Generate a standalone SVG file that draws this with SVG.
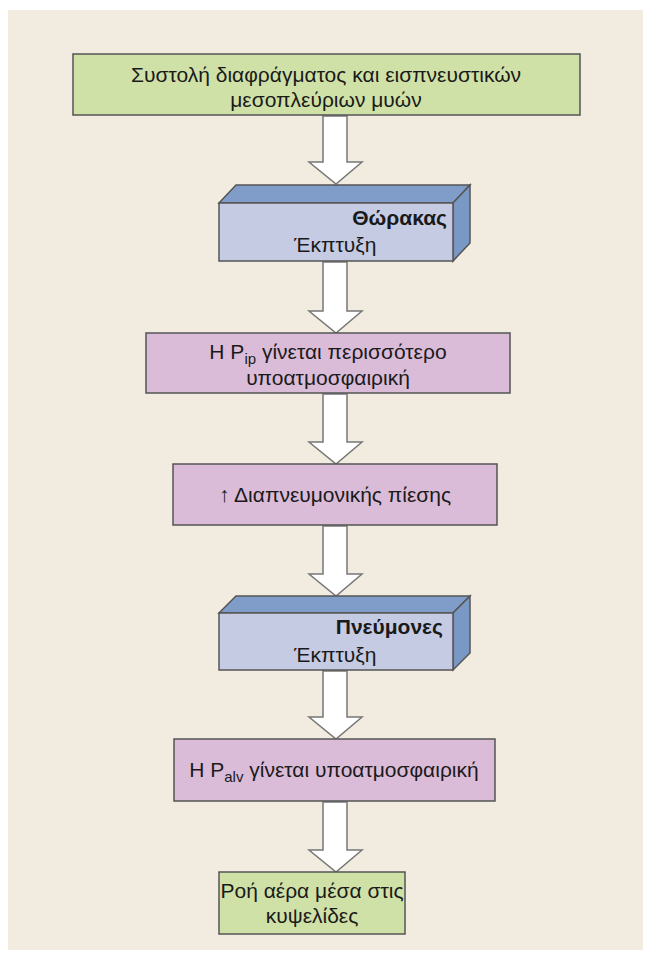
<svg xmlns="http://www.w3.org/2000/svg" width="650" height="960" viewBox="0 0 650 960">
<defs>
<style>
.t{font-family:"Liberation Sans","DejaVu Sans",sans-serif;font-size:21px;fill:#1a1a1a}
.b{font-weight:bold}
.box{stroke:#555;stroke-width:1.5}
.g{fill:#d0e1a8}
.p{fill:#dbbcd8}
.front{fill:#c4cbe3}
.top{fill:#7f9dc8}
.side{fill:#7a98c4}
.arr{fill:#ffffff;stroke:#777;stroke-width:1.5;stroke-linejoin:miter}
</style>
</defs>
<rect x="0" y="0" width="650" height="960" fill="#ffffff"/>
<rect x="8" y="10" width="635" height="940" fill="#f2ebe0"/>
<g id="connectors">
<path class="arr" d="M323,116 V162 H309 L336,184 L362,162 H347 V116 Z"/>
<path class="arr" d="M323,262 V311 H309 L336,333 L362,311 H347 V262 Z"/>
<path class="arr" d="M323,394 V442 H309 L336,464 L362,442 H347 V394 Z"/>
<path class="arr" d="M323,526 V574 H309 L336,596 L362,574 H347 V526 Z"/>
<path class="arr" d="M323,671 V717 H309 L336,739 L362,717 H347 V671 Z"/>
<path class="arr" d="M323,802 V850 H309 L336,872 L362,850 H347 V802 Z"/>
</g>
<g id="n1">
<rect class="box g" x="73" y="54" width="507" height="61"/>
<text class="t" x="326" y="82" text-anchor="middle">Συστολή διαφράγματος και εισπνευστικών</text>
<text class="t" x="326" y="107" text-anchor="middle">μεσοπλεύριων μυών</text>
</g>
<g id="n2">
<polygon class="box top" points="219,203 236,185 470,185 453,203"/>
<polygon class="box side" points="453,203 470,185 470,243 453,261"/>
<rect class="box front" x="219" y="203" width="234" height="58"/>
<text class="t b" x="447" y="225" text-anchor="end">Θώρακας</text>
<text class="t" x="294" y="252">Έκπτυξη</text>
</g>
<g id="n3">
<rect class="box p" x="146" y="333" width="364" height="60"/>
<text class="t" x="328" y="359" text-anchor="middle">H P<tspan font-size="15" dy="5">ip</tspan><tspan dy="-5"> γίνεται περισσότερο</tspan></text>
<text class="t" x="328" y="385" text-anchor="middle">υποατμοσφαιρική</text>
</g>
<g id="n4">
<rect class="box p" x="173" y="464" width="324" height="61"/>
<text class="t" x="335" y="502" text-anchor="middle"><tspan font-weight="bold">↑</tspan> Διαπνευμονικής πίεσης</text>
</g>
<g id="n5">
<polygon class="box top" points="219,613 236,596 470,596 453,613"/>
<polygon class="box side" points="453,613 470,596 470,653 453,670"/>
<rect class="box front" x="219" y="613" width="234" height="57"/>
<text class="t b" x="443" y="634" text-anchor="end">Πνεύμονες</text>
<text class="t" x="294" y="662">Έκπτυξη</text>
</g>
<g id="n6">
<rect class="box p" x="174" y="739" width="321" height="62"/>
<text class="t" x="334" y="777" text-anchor="middle">H P<tspan font-size="15" dy="5">alv</tspan><tspan dy="-5"> γίνεται υποατμοσφαιρική</tspan></text>
</g>
<g id="n7">
<rect class="box g" x="219" y="872" width="186" height="62"/>
<text class="t" x="312" y="898" text-anchor="middle">Ροή αέρα μέσα στις</text>
<text class="t" x="312" y="923" text-anchor="middle">κυψελίδες</text>
</g>
</svg>
